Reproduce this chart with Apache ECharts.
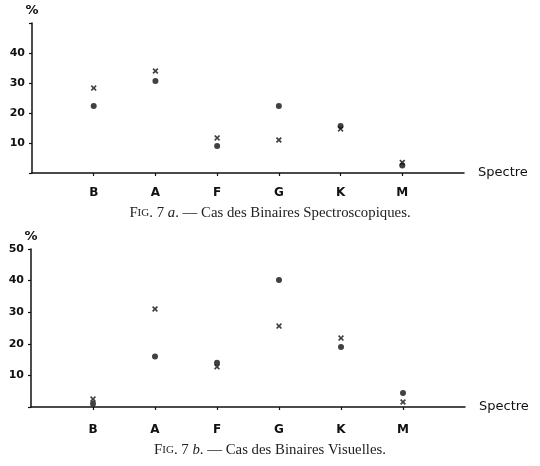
<!DOCTYPE html>
<html><head><meta charset="utf-8">
<script src="https://cdn.jsdelivr.net/npm/echarts@6/dist/echarts.min.js"></script>
<style>html,body{margin:0;padding:0;background:#fff}#c{width:540px;height:466px}</style>
</head><body><div id="c"></div>
<script>
const categories = ['', 'B', 'A', 'F', 'G', 'K', 'M', ''];
const spectralTypes = ['B', 'A', 'F', 'G', 'K', 'M'];
// Fig 7a - Binaires Spectroscopiques
const aDots = [22.3, 30.7, 9, 22.3, 15.7, 2.5];
const aCross = [28.3, 34, 11.7, 11, 14.7, 3.5];
// Fig 7b - Binaires Visuelles
const bDots = [1, 16, 14, 40.2, 19, 4.4];
const bCross = [2.5, 31, 12.7, 25.6, 21.8, 1.6];
const yTicksA = [10, 20, 30, 40];
const yTicksB = [10, 20, 30, 40, 50];

const crossPath = 'path://M0,2 L2,0 L5,3 L8,0 L10,2 L7,5 L10,8 L8,10 L5,7 L2,10 L0,8 L3,5 Z';
const pairs = arr => spectralTypes.map((c, i) => [c, arr[i]]);
const hand = 'DejaVu Sans';

function xAx(gi, margin) {
  return {
    gridIndex: gi, type: 'category', data: categories, boundaryGap: false,
    name: 'Spectre', nameLocation: 'end', nameGap: 14,
    nameTextStyle: { color: '#111', fontSize: 13, fontFamily: hand, verticalAlign: 'middle' },
    axisLine: { lineStyle: { color: '#111', width: 1.5 } },
    axisTick: { interval: (i, v) => v !== '', length: 3, lineStyle: { color: '#111', width: 1.2 } },
    axisLabel: { interval: (i, v) => v !== '', color: '#111', fontSize: 12, fontFamily: hand, fontWeight: 'bold', margin: margin },
    splitLine: { show: false }
  };
}
function yAx(gi, ticks, nameGap) {
  return {
    gridIndex: gi, type: 'value', min: 0, max: 50, interval: 10,
    name: '%', nameLocation: 'end', nameGap: nameGap,
    nameTextStyle: { color: '#111', fontSize: 13, fontFamily: hand, fontWeight: 'bold', align: 'center' },
    axisLine: { show: true, lineStyle: { color: '#111', width: 1.5 } },
    axisTick: { show: true, length: 3, lineStyle: { color: '#111', width: 1.2 } },
    axisLabel: { color: '#111', fontSize: 11, fontFamily: hand, fontWeight: 'bold', margin: 7,
      formatter: v => ticks.indexOf(v) >= 0 ? String(v) : '' },
    splitLine: { show: false }
  };
}
const capRich = {
  b: { fontFamily: 'Liberation Serif', fontSize: 14.8, fontWeight: 'normal', color: '#222' },
  s: { fontFamily: 'Liberation Serif', fontSize: 11, fontWeight: 'normal', color: '#222' },
  i: { fontFamily: 'Liberation Serif', fontSize: 14.8, fontWeight: 'normal', fontStyle: 'italic', color: '#222' }
};
function dotSeries(x, data) {
  return { type: 'scatter', xAxisIndex: x, yAxisIndex: x, data: pairs(data), symbol: 'circle', symbolSize: 6,
    itemStyle: { color: '#111' }, z: 3 };
}
function crossSeries(x, data) {
  return { type: 'scatter', xAxisIndex: x, yAxisIndex: x, data: pairs(data), symbol: crossPath, symbolSize: 6,
    itemStyle: { color: '#111' }, z: 4 };
}
const chart = echarts.init(document.getElementById('c'));
chart.setOption({
  backgroundColor: '#fff',
  animation: false,
  title: [
    { text: '{b|F}{s|IG}{b|. 7 }{i|a}{b|. — Cas des Binaires Spectroscopiques.}', left: 'center', top: 201,
      textStyle: { fontWeight: 'normal', rich: capRich } },
    { text: '{b|F}{s|IG}{b|. 7 }{i|b}{b|. — Cas des Binaires Visuelles.}', left: 'center', top: 438,
      textStyle: { fontWeight: 'normal', rich: capRich } }
  ],
  grid: [
    { left: 32, top: 23, width: 432, height: 150 },
    { left: 31, top: 249, width: 434, height: 158 }
  ],
  xAxis: [xAx(0, 14), xAx(1, 17)],
  yAxis: [yAx(0, yTicksA, 6), yAx(1, yTicksB, 5)],
  series: [dotSeries(0, aDots), crossSeries(0, aCross), dotSeries(1, bDots), crossSeries(1, bCross)]
});
</script></body></html>
